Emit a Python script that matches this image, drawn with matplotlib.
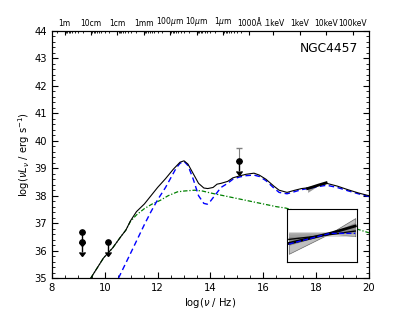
import numpy as np
import matplotlib
matplotlib.use("Agg")
import matplotlib.pyplot as plt
from matplotlib.ticker import MultipleLocator

# -----------------------------
# data
# -----------------------------
tot_x = [9.47, 9.95, 10.3, 10.6, 10.8, 10.97, 11.2, 11.5, 12.0, 12.3, 12.6, 12.85, 13.0,
         13.15, 13.35, 13.55, 13.75, 13.9, 14.1, 14.25, 14.4, 14.65, 14.85, 15.1, 15.35,
         15.65, 15.85, 16.1, 16.4, 16.6, 16.9, 17.2, 17.45, 17.8, 18.2, 18.4, 18.8, 19.2,
         19.6, 20.0]
tot_y = [35.0, 35.73, 36.1, 36.5, 36.75, 37.08, 37.42, 37.7, 38.3, 38.62, 38.97, 39.22, 39.27,
         39.15, 38.8, 38.45, 38.28, 38.26, 38.3, 38.42, 38.45, 38.52, 38.65, 38.72, 38.78,
         38.82, 38.75, 38.6, 38.35, 38.2, 38.12, 38.2, 38.26, 38.3, 38.4, 38.45, 38.35, 38.22,
         38.1, 38.0]

agn_x = [10.52, 11.0, 11.5, 11.75, 12.0, 12.3, 12.5, 12.7, 12.85, 13.0, 13.15, 13.35, 13.55,
         13.75, 13.88, 14.0, 14.2, 14.4, 14.65, 14.85, 15.1, 15.35, 15.65, 15.85, 16.1, 16.4,
         16.6, 16.9, 17.2, 17.45, 17.8, 18.2, 18.4, 18.8, 19.2, 19.6, 20.0]
agn_y = [35.0, 35.95, 36.95, 37.42, 37.85, 38.3, 38.65, 39.0, 39.18, 39.25, 39.1, 38.6, 38.0,
         37.72, 37.69, 37.8, 38.05, 38.3, 38.45, 38.6, 38.68, 38.73, 38.75, 38.7, 38.55, 38.28,
         38.12, 38.07, 38.15, 38.22, 38.28, 38.35, 38.38, 38.3, 38.18, 38.07, 37.97]

gal_x = [9.47, 9.95, 10.3, 10.6, 10.8, 10.97, 11.2, 11.5, 11.8, 12.1, 12.4, 12.75, 13.0, 13.4,
         13.7, 14.0, 14.5, 15.0, 15.5, 16.0, 16.5, 16.85, 17.5, 18.5, 19.5, 20.0]
gal_y = [35.0, 35.73, 36.1, 36.5, 36.75, 37.06, 37.3, 37.53, 37.7, 37.83, 38.0, 38.14, 38.17,
         38.2, 38.17, 38.1, 38.0, 37.9, 37.8, 37.7, 37.6, 37.55, 37.38, 37.09, 36.8, 36.65]

# upper limits (radio + UV)
lim_x = [9.12, 9.15, 10.14, 15.07]
lim_y = [36.69, 36.32, 36.31, 39.26]
lim_len = [0.37, 0.37, 0.36, 0.36]
uv_err_up = 0.48

# X-ray bowtie on main axes
xr_x = [17.68, 18.1, 18.38]
xr_lo = [38.12, 38.38, 38.42]
xr_hi = [38.34, 38.38, 38.52]
xr_line = [38.26, 38.39, 38.47]

# inset (axes units)
ins_x = [0.03, 0.62, 0.98]
ins_outer_lo = [0.16, 0.544, 0.49]
ins_outer_hi = [0.544, 0.544, 0.83]
ins_inner_lo = [0.32, 0.544, 0.54]
ins_inner_hi = [0.53, 0.544, 0.75]
ins_band = [0.47, 0.56]
ins_thick = [0.356, 0.544, 0.681]
ins_thin = [0.43, 0.52, 0.587]
ins_blue = [0.343, 0.544, 0.544]

# top axis labels
top_labels = ['1m', '10cm', '1cm', '1mm', r'100$\mu$m', r'10$\mu$m', r'1$\mu$m',
              u'1000\u00c5', '.1keV', '1keV', '10keV', '100keV']
c = 2.998e8
wave_m = [1.0, 0.1, 0.01, 1e-3, 1e-4, 1e-5, 1e-6, 1e-7]
kev = [0.1, 1.0, 10.0, 100.0]
top_pos = [np.log10(c / w) for w in wave_m] + [np.log10(e * 1.602e-16 / 6.626e-34) for e in kev]

# -----------------------------
# plot
# -----------------------------
fig = plt.figure(figsize=(4.09, 3.09), dpi=100)
ax = fig.add_axes([0.127, 0.100, 0.775, 0.800])

ax.plot(gal_x, gal_y, color='g', ls='-.', lw=0.9, dashes=(3.5, 1.5, 1, 1.5))
ax.plot(agn_x, agn_y, color='b', ls='--', lw=1.0, dashes=(4, 2.5))
ax.plot(tot_x, tot_y, color='k', ls='-', lw=0.8)

ax.fill_between(xr_x, xr_lo, xr_hi, color='0.6', lw=0)
ax.plot(xr_x, xr_line, color='k', lw=2)

ax.errorbar(lim_x[3], lim_y[3], yerr=[[0], [uv_err_up]], fmt='none', ecolor='0.5',
            elinewidth=0.8, capsize=2)
ax.errorbar(lim_x, lim_y, yerr=lim_len, uplims=True, fmt='o', color='k', ms=3.8,
            elinewidth=1, capsize=2)

ax.text(0.965, 0.93, 'NGC4457', transform=ax.transAxes, ha='right', va='center',
        fontsize=8.8)

ax.set_xlim(8, 20)
ax.set_ylim(35, 44)
ax.xaxis.set_major_locator(MultipleLocator(2))
ax.xaxis.set_minor_locator(MultipleLocator(0.5))
ax.yaxis.set_major_locator(MultipleLocator(1))
ax.yaxis.set_minor_locator(MultipleLocator(0.2))
ax.tick_params(which='both', direction='in', right=True, labelsize=7.2)
ax.tick_params(which='major', length=4)
ax.tick_params(which='minor', length=2)
ax.tick_params(axis='x', top=False)
ax.set_xlabel(r'log($\nu$ / Hz)', fontsize=7.2, labelpad=2)
ax.set_ylabel(r'log($\nu L_\nu$ / erg s$^{-1}$)', fontsize=7.2, labelpad=2)

top = ax.twiny()
top.set_xlim(8, 20)
top.set_xticks(top_pos)
top.set_xticklabels(top_labels)
minor_top = []
for w in wave_m:
    for k in range(2, 10):
        p = np.log10(c / (k * w))
        if 8 < p < 20:
            minor_top.append(p)
top.set_xticks(minor_top, minor=True)
top.tick_params(which='both', direction='in', labelsize=5.5, pad=2)
top.tick_params(which='major', length=3)
top.tick_params(which='minor', length=1.5)

ins = fig.add_axes([0.701, 0.151, 0.171, 0.1725])
ins.fill_between(ins_x, ins_outer_lo, ins_outer_hi, color='0.75', lw=0.5, edgecolor='0.4')
ins.fill_between(ins_x, ins_inner_lo, ins_inner_hi, color='0.55', lw=0)
ins.axhspan(ins_band[0], ins_band[1], xmin=0.03, xmax=0.98, color='0.7', alpha=0.5, lw=0)
ins.plot(ins_x, ins_thin, color='k', lw=1)
ins.plot(ins_x, ins_thick, color='k', lw=2)
ins.plot(ins_x, ins_blue, color='b', ls='--', lw=1)
ins.set_xlim(0, 1)
ins.set_ylim(0, 1)
ins.set_xticks([])
ins.set_yticks([])

fig.savefig('out.png', dpi=100)
